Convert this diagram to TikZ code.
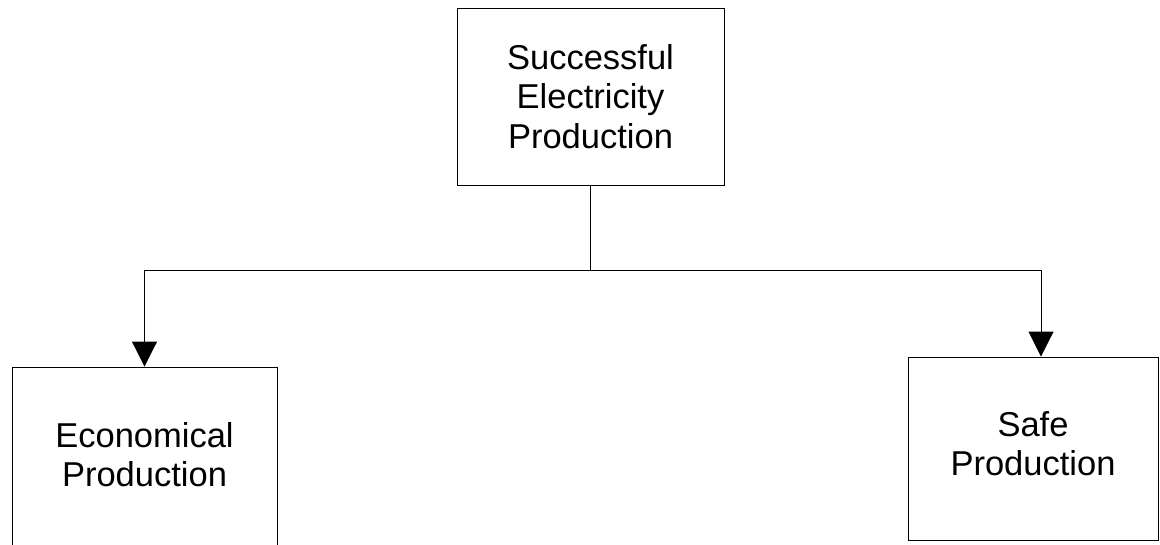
\documentclass[tikz,border=0pt]{standalone}
\usepackage{fontspec}
\setmainfont{Liberation Sans}
\usetikzlibrary{arrows.meta}
\begin{document}
\begin{tikzpicture}[x=1pt,y=-1pt,
  box/.style={draw=black, line width=0.9pt, rectangle, align=center, inner sep=0pt,
    font=\fontsize{34.5}{39.5}\selectfont},
  link/.style={draw=black, line width=0.9pt},
  arrowlink/.style={link, -{Triangle[length=25pt,width=25pt]}}]
  \useasboundingbox (0,0) rectangle (1160,544);
  \begin{scope}
  \clip (0,0) rectangle (1160,544);
  \node[box, minimum width=267pt, minimum height=177pt] (goal) at (590.5,96.5)
    {Successful\\Electricity\\Production};
  \node[box, minimum width=265pt, minimum height=183pt, text depth=8pt] (econ) at (144.5,458.5)
    {Economical\\Production};
  \node[box, minimum width=250pt, minimum height=183pt, text depth=10pt] (safe) at (1033,448.5)
    {Safe\\Production};
  \coordinate (split) at (590.5,270);
  \coordinate (safein) at ([xshift=8pt]safe.north);
  \draw[link] (goal.south) -- (split);
  \draw[arrowlink] (split) -| (econ.north);
  \draw[arrowlink] (split) -| (safein);
  \end{scope}
\end{tikzpicture}
\end{document}
